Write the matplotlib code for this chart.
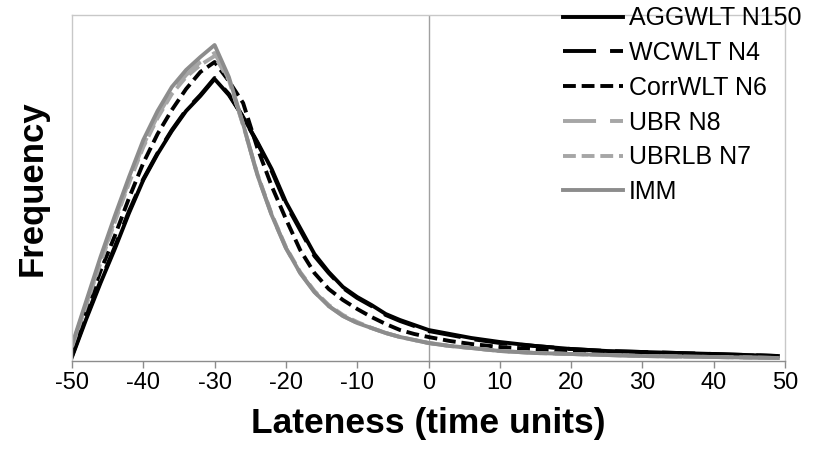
import numpy as np
import matplotlib.pyplot as plt

plt.rcParams['font.family'] = ['Liberation Sans', 'DejaVu Sans']
plt.rcParams['axes.unicode_minus'] = False

# lateness grid (time units) and frequency estimates
lateness = [-50, -48, -46, -44, -42, -40, -38, -36, -34, -32, -30,
            -28, -26, -24, -22, -20, -18, -16, -14, -12, -10, -8, -6, -4, -2,
            0, 3, 6, 10, 15, 20, 25, 30, 40, 49]

agg_n150 = [0.04, 0.42, 0.78, 1.12, 1.48, 1.81, 2.07, 2.30, 2.50, 2.65, 2.82,
            2.66, 2.44, 2.19, 1.92, 1.59, 1.33, 1.07, 0.89, 0.74, 0.64, 0.56,
            0.47, 0.41, 0.36,
            0.31, 0.27, 0.23, 0.19, 0.15, 0.12, 0.10, 0.09, 0.07, 0.05]
wc_n4 = [0.05, 0.44, 0.80, 1.14, 1.50, 1.82, 2.08, 2.31, 2.51, 2.66, 2.83,
         2.67, 2.44, 2.18, 1.90, 1.57, 1.31, 1.05, 0.88, 0.73, 0.63, 0.55,
         0.46, 0.40, 0.35,
         0.30, 0.26, 0.22, 0.18, 0.15, 0.12, 0.10, 0.09, 0.07, 0.05]
corr_n6 = [0.10, 0.50, 0.90, 1.25, 1.63, 1.98, 2.27, 2.51, 2.72, 2.89, 2.99,
           2.80, 2.58, 2.13, 1.75, 1.42, 1.11, 0.88, 0.72, 0.61, 0.52, 0.44,
           0.37, 0.31, 0.27,
           0.24, 0.20, 0.17, 0.14, 0.12, 0.10, 0.08, 0.07, 0.06, 0.05]
ubr_n8 = [0.15, 0.57, 1.00, 1.41, 1.80, 2.16, 2.45, 2.69, 2.86, 2.99, 3.08,
          2.82, 2.36, 1.86, 1.46, 1.13, 0.88, 0.69, 0.55, 0.45, 0.38, 0.33,
          0.28, 0.24, 0.21,
          0.18, 0.15, 0.13, 0.10, 0.08, 0.07, 0.06, 0.05, 0.04, 0.03]
ubrlb_n7 = [0.14, 0.56, 0.98, 1.39, 1.78, 2.14, 2.43, 2.67, 2.84, 2.96, 3.05,
            2.81, 2.36, 1.87, 1.47, 1.14, 0.89, 0.70, 0.56, 0.46, 0.39, 0.33,
            0.28, 0.24, 0.21,
            0.18, 0.15, 0.13, 0.10, 0.08, 0.07, 0.06, 0.05, 0.04, 0.03]
imm = [0.16, 0.60, 1.04, 1.45, 1.84, 2.21, 2.50, 2.74, 2.91, 3.04, 3.16,
       2.84, 2.37, 1.86, 1.46, 1.13, 0.88, 0.69, 0.55, 0.45, 0.38, 0.33,
       0.28, 0.24, 0.21,
       0.18, 0.15, 0.13, 0.10, 0.08, 0.07, 0.06, 0.05, 0.04, 0.03]

labels = ['AGGWLT N150', 'WCWLT N4', 'CorrWLT N6', 'UBR N8', 'UBRLB N7', 'IMM']
colors = ['black', 'black', 'black', '#a6a6a6', '#a6a6a6', '#8c8c8c']
long_dash = (8.5, 3.6)
short_dash = (3.3, 1.5)
dashes = [None, long_dash, short_dash, long_dash, short_dash, None]

fig = plt.figure(figsize=(8.18, 4.55), dpi=100)
ax = fig.add_axes([0.088, 0.2066, 0.8717, 0.7615])

series = [agg_n150, wc_n4, corr_n6, ubr_n8, ubrlb_n7, imm]
for ys, lab, c, d in zip(series, labels, colors, dashes):
    line, = ax.plot(lateness, ys, color=c, lw=2.8, label=lab)
    if d is not None:
        line.set_dashes(d)
        line.set_dash_capstyle('butt')

ax.axvline(0, color='#a0a0a0', lw=1, zorder=0)
ax.set_xlim(-50, 50)
ax.set_ylim(0, 3.465)
ax.set_xticks(np.arange(-50, 51, 10))
ax.set_yticks([])
ax.tick_params(axis='x', direction='out', length=5, width=1, color='#8c8c8c',
               labelsize=17, pad=3)

for side in ['left', 'top', 'right']:
    ax.spines[side].set_color('#c8c8c8')
    ax.spines[side].set_linewidth(1)
ax.spines['bottom'].set_color('#8c8c8c')
ax.spines['bottom'].set_linewidth(1)

ax.set_xlabel('Lateness (time units)', fontsize=25.5, fontweight='bold', labelpad=9)
ax.set_ylabel('Frequency', fontsize=25, fontweight='bold', labelpad=17)

fig.legend(loc='upper left', bbox_to_anchor=(563 / 818, 0.986), frameon=False,
           fontsize=18, handlelength=2.4, handletextpad=0.24, labelspacing=0.43,
           borderpad=0, borderaxespad=0)

fig.savefig('out.png', dpi=100)
